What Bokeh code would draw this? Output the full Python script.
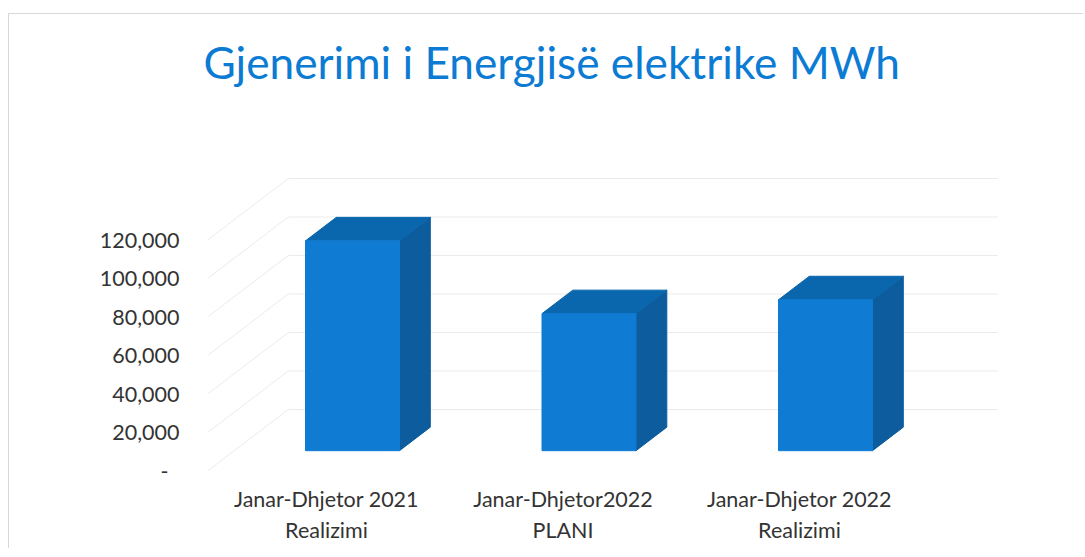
from bokeh.plotting import figure
from bokeh.models import ColumnDataSource, FixedTicker, Range1d, NumeralTickFormatter
from bokeh.embed import file_html
from bokeh.resources import INLINE

# ---- data ----
categories = ["Janar-Dhjetor 2021\nRealizimi", "Janar-Dhjetor2022\nPLANI", "Janar-Dhjetor 2022\nRealizimi"]
values = [109000, 71200, 78400]
value_ticks = [0, 20000, 40000, 60000, 80000, 100000, 120000]
title_text = "Gjenerimi i Energjisë elektrike MWh"

# ---- layout / style ----
FRAME_W, FRAME_H = 825, 368
PX_PER_CAT = 236.5
PX_PER_VAL = 38.5 / 20000
X0_FROM_LEFT = 136     # px from frame left to the first category
Y0_FROM_BOTTOM = 8     # px from frame bottom to value 0

WALL_DX = 80 / PX_PER_CAT
WALL_DY = 61 / PX_PER_VAL
BAR_W = 94 / PX_PER_CAT
BAR_POS = 0.325        # where the bar front stands in the floor depth
BAR_DEPTH = 0.385      # bar depth as a share of floor depth
FONT = "Lato"
TEXT = "#333333"

p = figure(
    frame_width=FRAME_W, frame_height=FRAME_H,
    min_border_left=181, min_border_right=68, min_border_bottom=70, min_border_top=96,
    output_backend="svg", toolbar_location=None,
    x_range=Range1d(-X0_FROM_LEFT / PX_PER_CAT, (FRAME_W - X0_FROM_LEFT) / PX_PER_CAT),
    y_range=Range1d(-Y0_FROM_BOTTOM / PX_PER_VAL, (FRAME_H - Y0_FROM_BOTTOM) / PX_PER_VAL),
    title=title_text,
)
p.margin = (13, 0, 0, 8)
p.styles = {"border-top": "1px solid #d8d8d8", "border-left": "1px solid #d8d8d8"}
p.outline_line_color = None
p.background_fill_color = "white"
p.border_fill_color = "white"
p.grid.visible = False

p.title.text_font = FONT
p.title.text_font_style = "normal"
p.title.text_font_size = "44.2px"
p.title.text_color = "#0c7bd3"
p.title.align = "left"
p.title.offset = 13
p.title.vertical_align = "top"
p.title.standoff = 41

# wall lines
left_edge, right_edge = -0.5, len(categories) - 0.5
grid_xs = [[left_edge, left_edge + WALL_DX, right_edge + WALL_DX] for _ in value_ticks]
grid_ys = [[t, t + WALL_DY, t + WALL_DY] for t in value_ticks]
p.multi_line(grid_xs, grid_ys, line_color="#ebebeb", line_width=1)

# bars as three faces
front, top, side = {"x": [], "y": []}, {"x": [], "y": []}, {"x": [], "y": []}
ox, oy = WALL_DX * BAR_POS, WALL_DY * BAR_POS
bx, by = WALL_DX * BAR_DEPTH, WALL_DY * BAR_DEPTH
for i, v in enumerate(values):
    l = i + ox - BAR_W / 2
    r = i + ox + BAR_W / 2
    front["x"].append([l, r, r, l]); front["y"].append([oy, oy, oy + v, oy + v])
    top["x"].append([l, r, r + bx, l + bx]); top["y"].append([oy + v, oy + v, oy + v + by, oy + v + by])
    side["x"].append([r, r + bx, r + bx, r]); side["y"].append([oy, oy + by, oy + v + by, oy + v])
p.patches("x", "y", source=ColumnDataSource(side), fill_color="#0c5c9e", line_color="#0c5c9e")
p.patches("x", "y", source=ColumnDataSource(top), fill_color="#0a66ad", line_color="#0a66ad")
p.patches("x", "y", source=ColumnDataSource(front), fill_color="#0f7bd2", line_color="#0f7bd2")

# axes
ya = p.yaxis[0]
ya.ticker = FixedTicker(ticks=value_ticks)
ya.formatter = NumeralTickFormatter(format="0,0")
ya.major_label_overrides = {0: "-\u00a0\u00a0"}
ya.axis_line_color = None
ya.major_tick_line_color = None
ya.minor_tick_line_color = None
ya.major_label_text_font = FONT
ya.major_label_text_font_size = "21.5px"
ya.major_label_text_color = TEXT
ya.major_label_standoff = 5

xa = p.xaxis[0]
xa.ticker = FixedTicker(ticks=list(range(len(categories))))
xa.major_label_overrides = {i: c for i, c in enumerate(categories)}
xa.axis_line_color = None
xa.major_tick_line_color = None
xa.minor_tick_line_color = None
xa.major_label_text_font = FONT
xa.major_label_text_font_size = "21.5px"
xa.major_label_text_color = TEXT
xa.major_label_standoff = 1

open("out.html", "w").write(file_html(p, INLINE))
